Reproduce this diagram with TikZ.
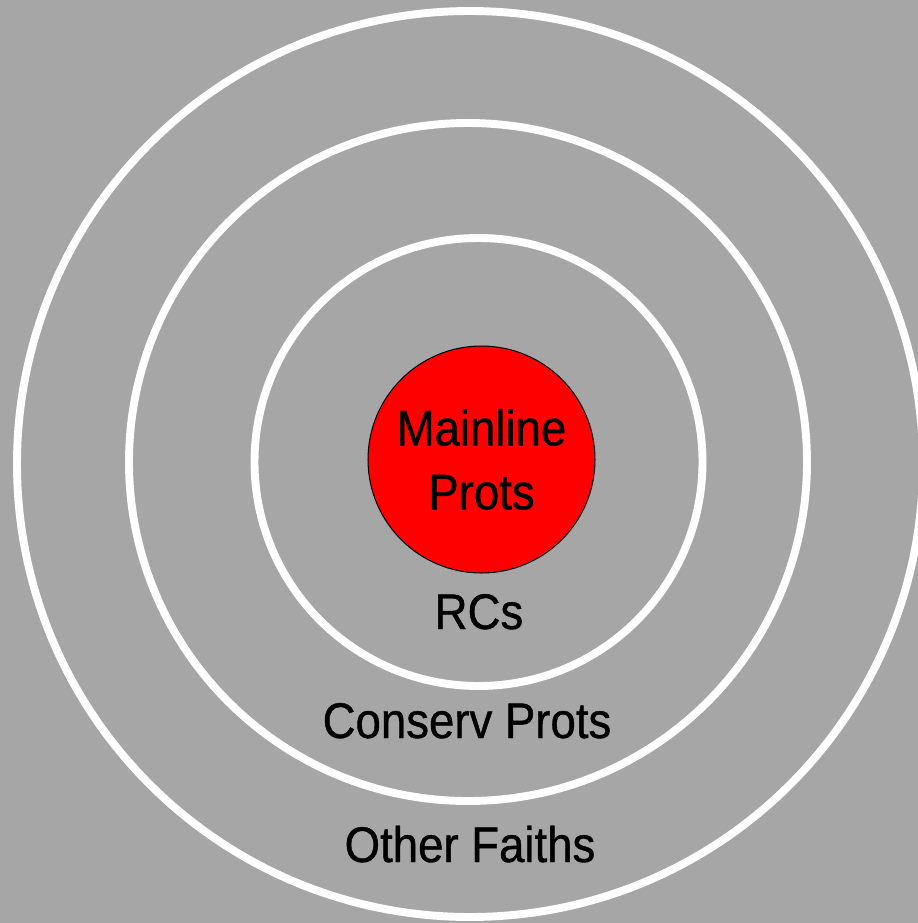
\documentclass[tikz,border=0pt]{standalone}
\usepackage{fontspec}
\usepackage{xcolor}
\usepackage{tikz}
\usetikzlibrary{positioning}
\newfontfamily\ringfont{Liberation Sans}[FakeStretch=0.91,FakeBold=0.8]
\definecolor{ringgray}{HTML}{A6A6A6}
\definecolor{corered}{HTML}{FF0000}

\begin{document}
\begin{tikzpicture}[x=0.02cm,y=-0.02cm,
    ring/.style={draw=white,line width=4.5pt},
    core/.style={circle,draw=black,line width=0.6pt,fill=corered,minimum size=4.54cm,inner sep=0pt,align=center,font=\ringfont\fontsize{28.5}{36.4}\selectfont},
    ringlabel/.style={anchor=base,inner sep=0pt,font=\ringfont\fontsize{28.5}{34}\selectfont}]
  \fill[ringgray] (0,0) rectangle (918,923);
  \useasboundingbox (0,0) rectangle (918,923);
  % rings, outer to inner
  \foreach \cx/\cy/\rad in {470/464/453,468/462/339,478.5/462/224}{\draw[ring] (\cx,\cy) circle (\rad);}
  \node[core] (mainline) at (481.5,459.5) {Mainline\\Prots};
  \node[ringlabel] (rcs) at (479,629) {RCs};
  \node[ringlabel] (conserv) at (467,738) {Conserv Prots};
  \node[ringlabel] (other) at (470,862) {Other Faiths};
\end{tikzpicture}
\end{document}
